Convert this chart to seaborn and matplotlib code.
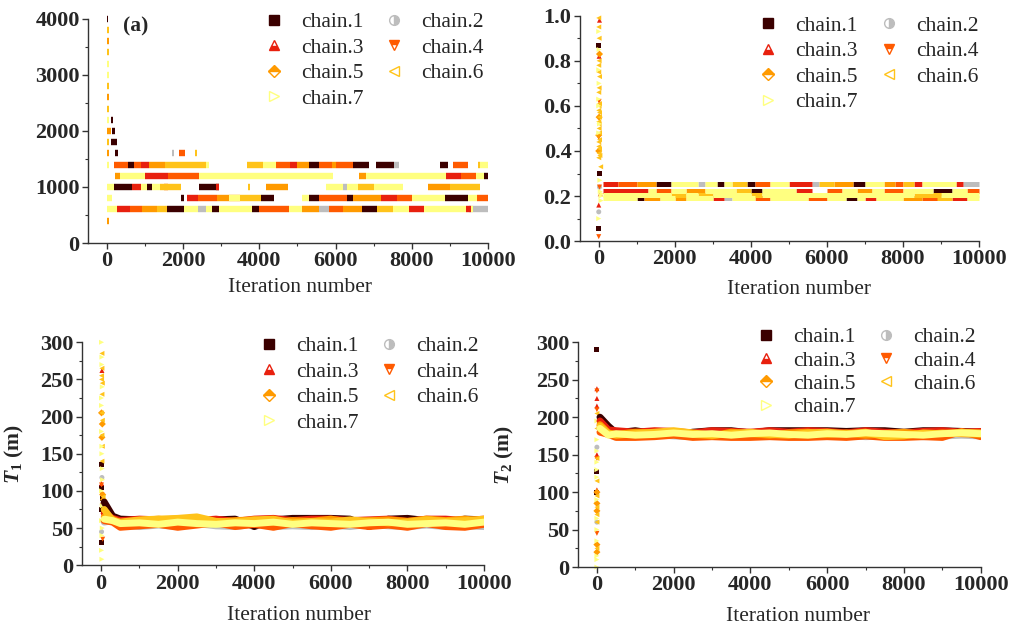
import matplotlib
matplotlib.use('Agg')
import matplotlib.pyplot as plt
from matplotlib.lines import Line2D
from matplotlib.ticker import MultipleLocator
import pandas as pd
import seaborn as sns

chains = ['chain.1', 'chain.2', 'chain.3', 'chain.4', 'chain.5', 'chain.6', 'chain.7']
colors = ['#3b0000', '#bdbdbd', '#e8200e', '#ff5a00', '#ff9a00', '#ffc31a', '#ffff80']
markers = ['s', 'o', '^', 'v', 'D', '<', '>']
fills = ['full', 'right', 'bottom', 'top', 'top', 'none', 'none']

# panel (a): step segments (x0, x1, level) per chain
a_segments = [
    [(200, 300, 1600), (100, 250, 1800), (120, 220, 2000), (100, 150, 2200), (0, 20, 4000),
     (1580, 2020, 600), (2760, 2950, 600), (3800, 4000, 600), (6700, 7100, 600),
     (1930, 2020, 800), (4040, 4390, 800), (5300, 5560, 800), (6300, 6450, 800), (8870, 9470, 800),
     (180, 660, 1000), (1050, 1180, 1000), (2410, 2940, 1000), (9900, 10000, 1200),
     (550, 700, 1400), (5300, 5560, 1400), (6450, 6880, 1400), (7060, 7540, 1400), (8730, 8950, 1400)],
    [(1700, 1750, 1600), (2400, 2600, 600), (5570, 5830, 600), (9500, 10000, 600),
     (7540, 7670, 1400), (6200, 6300, 1000)],
    [(250, 600, 600), (7940, 8330, 600), (9430, 9560, 600), (2100, 2400, 800), (7200, 7600, 800),
     (660, 900, 1000), (2850, 2950, 1000), (1000, 1600, 1200), (8900, 9300, 1200),
     (900, 1100, 1400), (4800, 5000, 1400)],
    [(1900, 2050, 1600), (600, 920, 600), (4000, 4780, 600), (5830, 6200, 600),
     (2400, 2900, 800), (5560, 6300, 800), (7600, 8000, 800), (9700, 10000, 800), (1500, 1600, 1000),
     (1600, 2410, 1200), (9300, 9680, 1200), (175, 550, 1400), (700, 900, 1400), (4430, 4800, 1400),
     (5560, 5900, 1400), (6000, 6450, 1400), (9080, 9470, 1400)],
    [(920, 1300, 600), (5130, 5570, 600), (6200, 6700, 600), (2900, 3500, 800), (6450, 7200, 800),
     (4170, 4740, 1000), (8420, 9000, 1000), (200, 350, 1200), (6620, 6800, 1200),
     (1100, 1530, 1400), (5000, 5300, 1400), (5900, 6000, 1400),
     (0, 100, 2000), (0, 60, 2600), (0, 60, 3600), (0, 40, 400), (0, 40, 1600)],
    [(2300, 2350, 1600), (7100, 7500, 600), (1300, 1580, 600), (3500, 4040, 800),
     (1400, 1930, 1000), (3700, 3750, 1000), (9000, 9780, 1000), (6600, 7000, 1000),
     (1530, 2590, 1400), (3680, 4100, 1400), (9730, 9800, 1400),
     (0, 40, 3800), (0, 50, 2800), (0, 40, 3400), (0, 50, 2400), (0, 60, 1800)],
    [(0, 250, 600), (2020, 2400, 600), (2600, 2760, 600), (2950, 3800, 600), (4780, 5130, 600),
     (7500, 7940, 600), (8330, 9430, 600), (9560, 9600, 600),
     (0, 120, 800), (5130, 5300, 800), (8000, 8870, 800), (9470, 9700, 800), (3200, 3500, 800),
     (0, 180, 1000), (900, 1050, 1000), (1180, 1400, 1000), (5740, 6200, 1000), (6300, 6600, 1000),
     (7000, 7760, 1000), (350, 1000, 1200), (2410, 5920, 1200), (6800, 8900, 1200), (9680, 9900, 1200),
     (2590, 2675, 1400), (4100, 4430, 1400), (9800, 10000, 1400),
     (0, 50, 1400), (0, 50, 2200), (0, 40, 3000), (0, 40, 3200)],
]

# panel (b): step segments per chain
b_segments = [
    [(1500, 1900, 0.255), (3100, 3300, 0.255), (3900, 4100, 0.255), (5100, 5300, 0.255), (6700, 7000, 0.255),
     (4000, 4300, 0.222), (8800, 9300, 0.222), (6500, 6800, 0.19), (1000, 1200, 0.19), (200, 400, 0.205)],
    [(2600, 2800, 0.255), (5600, 5800, 0.255), (9600, 10000, 0.255), (6000, 6400, 0.205), (3300, 3500, 0.19)],
    [(100, 500, 0.255), (5000, 5600, 0.255), (8300, 8500, 0.255), (9400, 9600, 0.255),
     (100, 1300, 0.222), (5200, 5600, 0.222), (3000, 3300, 0.19), (7000, 7300, 0.19), (9300, 9700, 0.19)],
    [(500, 1000, 0.255), (4100, 4500, 0.255), (7800, 8000, 0.255), (9700, 10000, 0.222), (1500, 1900, 0.222),
     (7500, 8000, 0.222), (6000, 6400, 0.222), (4100, 4500, 0.19), (5500, 6000, 0.19), (8500, 9000, 0.19)],
    [(1000, 1500, 0.255), (6200, 6700, 0.255), (7500, 7800, 0.255), (2300, 2800, 0.222), (6800, 7200, 0.222),
     (1200, 1600, 0.19), (8000, 8500, 0.19), (2000, 2300, 0.19), (8800, 9200, 0.205)],
    [(3500, 3900, 0.255), (5800, 6200, 0.255), (8000, 8300, 0.255), (1900, 2300, 0.205), (2600, 3000, 0.205),
     (4000, 4300, 0.205), (8300, 9000, 0.205), (3600, 4000, 0.222), (8900, 9300, 0.19)],
    [(1900, 2600, 0.255), (2800, 3100, 0.255), (3300, 3500, 0.255), (4500, 5000, 0.255), (7000, 7500, 0.255),
     (8500, 9400, 0.255), (100, 1900, 0.205), (2300, 2600, 0.205), (3000, 4000, 0.205), (4300, 8300, 0.205),
     (9000, 10000, 0.205), (1300, 1500, 0.222), (1900, 2300, 0.222), (2800, 3600, 0.222), (4300, 5200, 0.222),
     (6400, 6800, 0.222), (7200, 7500, 0.222), (8000, 8800, 0.222), (9300, 9700, 0.222),
     (100, 1000, 0.19), (1600, 2000, 0.19), (2300, 3000, 0.19), (3500, 4100, 0.19), (4500, 5500, 0.19),
     (6000, 6500, 0.19), (6800, 7000, 0.19), (7300, 8000, 0.19), (9700, 10000, 0.19)],
]

# burn-in points (x, y) per chain
b_burnin = [
    [(0, 0.867), (10, 0.30), (0, 0.058)],
    [(0, 0.13), (20, 0.24)],
    [(0, 0.16), (10, 0.82), (20, 0.98), (40, 0.21)],
    [(0, 0.02), (0, 0.46), (10, 0.62), (20, 0.24)],
    [(0, 0.40), (10, 0.55), (20, 0.83), (0, 0.47)],
    [(50, 0.33), (0, 0.95), (10, 0.90), (0, 0.78), (20, 0.73), (0, 0.66), (10, 0.60), (20, 0.57),
     (0, 0.53), (10, 0.50), (20, 0.45), (0, 0.42), (10, 0.39), (30, 0.38), (10, 0.68), (0, 0.99),
     (20, 0.61), (0, 0.58), (20, 0.55), (10, 0.52), (20, 0.48), (0, 0.44), (20, 0.41), (0, 0.37),
     (10, 0.80), (0, 0.75)],
    [(0, 0.93), (10, 0.85), (0, 0.76), (10, 0.70), (0, 0.63), (0, 0.60), (20, 0.52), (0, 0.48),
     (30, 0.27), (40, 0.22), (60, 0.20), (0, 0.10), (60, 0.18), (80, 0.21)],
]

c_burnin = [
    [(20, 135), (10, 105), (30, 90), (20, 75), (10, 30), (150, 72), (220, 67)],
    [(20, 118), (10, 45), (40, 60)],
    [(20, 262), (10, 110), (30, 85)],
    [(10, 108), (20, 95), (40, 35)],
    [(10, 205), (30, 190), (20, 172), (40, 95), (60, 88)],
    [(20, 285), (10, 255), (30, 245), (20, 230), (10, 205), (30, 160), (20, 140), (50, 92), (40, 70),
     (20, 265), (10, 250), (30, 195), (20, 175)],
    [(10, 300), (20, 270), (30, 240), (10, 215), (10, 180), (20, 160), (30, 130), (40, 115), (30, 80),
     (10, 60), (20, 40), (10, 20), (20, 8), (60, 85), (100, 70), (20, 280), (10, 225), (20, 150),
     (10, 100), (30, 50)],
]

d_burnin = [
    [(0, 290), (0, 128), (0, 100), (100, 198), (200, 192)],
    [(0, 60), (0, 160)],
    [(0, 238), (0, 225), (0, 215), (0, 150), (0, 103)],
    [(0, 235), (0, 210), (0, 45), (0, 145)],
    [(0, 100), (0, 85), (0, 30), (0, 20), (0, 75)],
    [(0, 205), (0, 145), (0, 80), (0, 60), (0, 25), (0, 185), (0, 115), (0, 95), (0, 70)],
    [(0, 170), (0, 130), (0, 120), (0, 50), (0, 10), (0, 0), (0, 195), (0, 90), (0, 35), (0, 155),
     (0, 140), (0, 65), (0, 15)],
]

# panels (c) and (d): trace values at these iterations
knots = [80, 300, 500, 1000, 1500, 2000, 2500, 3000, 3500, 4000, 4500, 5000,
         5500, 6000, 6500, 7000, 7500, 8000, 8500, 9000, 9500, 10000]

c_trace = [
    [85, 66, 62, 61, 60, 52, 58, 61, 62, 52, 61, 63, 63, 63, 62, 52, 62, 63, 60, 58, 62, 61],
    [58, 60, 54, 52, 54, 52, 56, 53, 52, 55, 52, 53, 52, 54, 52, 55, 53, 52, 54, 52, 53, 52],
    [70, 63, 60, 62, 61, 62, 60, 62, 59, 62, 63, 60, 62, 62, 60, 61, 62, 59, 62, 62, 60, 62],
    [60, 58, 51, 53, 55, 51, 54, 57, 52, 55, 51, 56, 53, 51, 55, 52, 54, 51, 56, 52, 51, 55],
    [65, 62, 57, 60, 62, 59, 61, 58, 60, 61, 58, 60, 59, 62, 58, 60, 61, 59, 62, 60, 62, 59],
    [75, 60, 58, 61, 62, 63, 65, 59, 58, 61, 62, 57, 59, 58, 61, 59, 57, 58, 61, 59, 60, 62],
    [62, 60, 56, 57, 55, 58, 56, 55, 57, 56, 58, 55, 57, 56, 55, 57, 58, 55, 56, 57, 55, 58],
]

d_trace = [
    [200, 188, 179, 182, 178, 176, 180, 182, 182, 179, 182, 182, 182, 182, 181, 182, 182, 180, 182, 182, 181, 180],
    [185, 181, 176, 174, 177, 175, 174, 176, 174, 175, 176, 174, 174, 175, 176, 174, 175, 176, 174, 175, 176, 175],
    [195, 183, 182, 180, 182, 181, 179, 182, 181, 180, 182, 180, 182, 181, 179, 182, 180, 179, 181, 182, 180, 181],
    [180, 177, 173, 173, 174, 176, 173, 174, 173, 173, 174, 173, 173, 174, 173, 175, 173, 173, 174, 173, 181, 174],
    [190, 179, 177, 180, 179, 181, 177, 175, 180, 178, 176, 179, 180, 177, 179, 176, 178, 180, 177, 179, 178, 177],
    [188, 178, 176, 178, 180, 182, 179, 176, 178, 180, 177, 176, 179, 180, 178, 180, 174, 175, 179, 178, 180, 179],
    [185, 176, 178, 176, 177, 179, 177, 178, 176, 178, 179, 177, 176, 178, 177, 179, 178, 177, 176, 178, 179, 178],
]

sns.set_style('ticks')
plt.rcParams['font.family'] = ['Liberation Serif', 'DejaVu Serif']
plt.rcParams['mathtext.fontset'] = 'custom'
plt.rcParams['mathtext.it'] = 'Liberation Serif:italic:bold'
plt.rcParams['mathtext.rm'] = 'Liberation Serif:bold'
plt.rcParams['mathtext.bf'] = 'Liberation Serif:bold'

pal = dict(zip(chains, colors))
mk = dict(zip(chains, markers))

fig = plt.figure(figsize=(10.1, 6.28), dpi=100)
ax_a = fig.add_axes([0.0871, 0.613, 0.396, 0.357])
ax_b = fig.add_axes([0.574, 0.616, 0.395, 0.359])
ax_c = fig.add_axes([0.0812, 0.100, 0.398, 0.355])
ax_d = fig.add_axes([0.572, 0.097, 0.399, 0.358])


def draw_segments(ax, segs, lw):
    for i, s in enumerate(segs):
        df = pd.DataFrame(s, columns=['x0', 'x1', 'y'])
        ax.hlines(df['y'], df['x0'], df['x1'], color=colors[i], lw=lw, clip_on=False)


def draw_points(ax, pts, size):
    rows = [(chains[i], x, y) for i, p in enumerate(pts) for x, y in p]
    df = pd.DataFrame(rows, columns=['chain', 'iter', 'val'])
    sns.scatterplot(data=df, x='iter', y='val', hue='chain', style='chain', palette=pal,
                    markers=mk, s=size, linewidth=0, legend=False, ax=ax, clip_on=False)


def draw_trace(ax, trace):
    rows = [(chains[i], x, y) for i, t in enumerate(trace) for x, y in zip(knots, t, strict=True)]
    df = pd.DataFrame(rows, columns=['chain', 'iter', 'val'])
    sns.lineplot(data=df, x='iter', y='val', hue='chain', palette=pal, estimator=None,
                 sort=False, linewidth=5.0, legend=False, ax=ax)


draw_segments(ax_a, a_segments, 4.6)
draw_segments(ax_b, b_segments, 3.6)
draw_points(ax_b, b_burnin, 13)
draw_trace(ax_c, c_trace)
draw_points(ax_c, c_burnin, 13)
draw_trace(ax_d, d_trace)
draw_points(ax_d, d_burnin, 13)

handles = [Line2D([], [], ls='none', marker=markers[i], color=colors[i], fillstyle=fills[i],
                  markerfacecoloralt='white', markersize=7 if markers[i] != 'D' else 6,
                  markeredgewidth=1.0) for i in range(7)]
order = [0, 2, 4, 6, 1, 3, 5]

setup = [
    (ax_a, (0, 4000), 1000, 500, (0.4375, 1.029), 0.25, (0.53, -0.158), None, None),
    (ax_b, (0, 1.0), 0.2, 0.1, (0.446, 1.0), 0.25, (0.549, -0.173), None, None),
    (ax_c, (0, 300), 50, 25, (0.438, 1.027), 0.25, (0.54, -0.183), '$T_1$ (m)', -0.14),
    (ax_d, (0, 300), 50, 25, (0.44, 1.066), 0.145, (0.546, -0.178), '$T_2$ (m)', -0.152),
]

for ax, ylim, ymaj, ymin, leg_at, lspace, xl_at, ylab, yl_x in setup:
    ax.set_xlim(-500, 10000)
    ax.set_ylim(*ylim)
    ax.xaxis.set_major_locator(MultipleLocator(2000))
    ax.xaxis.set_minor_locator(MultipleLocator(1000))
    ax.yaxis.set_major_locator(MultipleLocator(ymaj))
    ax.yaxis.set_minor_locator(MultipleLocator(ymin))
    if ylim[1] == 1.0:
        ax.yaxis.set_major_formatter(lambda v, p: f'{v:.1f}')
    sns.despine(ax=ax)
    for sp in ('left', 'bottom'):
        ax.spines[sp].set_color('#333333')
        ax.spines[sp].set_linewidth(1.0)
    ax.tick_params(which='major', direction='out', length=4, width=1, color='#333333', pad=2)
    ax.tick_params(which='minor', direction='out', length=2.5, width=0.8, color='#333333')
    for lab in ax.get_xticklabels() + ax.get_yticklabels():
        lab.set_fontsize(16)
        lab.set_fontweight('bold')
    ax.set_xlabel('Iteration number', fontsize=15.5)
    ax.xaxis.set_label_coords(*xl_at)
    if ylab:
        ax.set_ylabel(ylab, fontsize=15.5, fontweight='bold')
        ax.yaxis.set_label_coords(yl_x, 0.5)
    else:
        ax.set_ylabel('')
    ax.legend(handles=[handles[i] for i in order], labels=[chains[i] for i in order], ncol=2,
              loc='upper left', bbox_to_anchor=leg_at, frameon=False, fontsize=15.5,
              handlelength=1.0, handletextpad=0.75, columnspacing=0.95, labelspacing=lspace,
              borderpad=0, borderaxespad=0)

ax_a.text(0.0875, 0.964, '(a)', transform=ax_a.transAxes, fontsize=15.5, fontweight='bold', va='center')

fig.savefig('out.png', dpi=100)
